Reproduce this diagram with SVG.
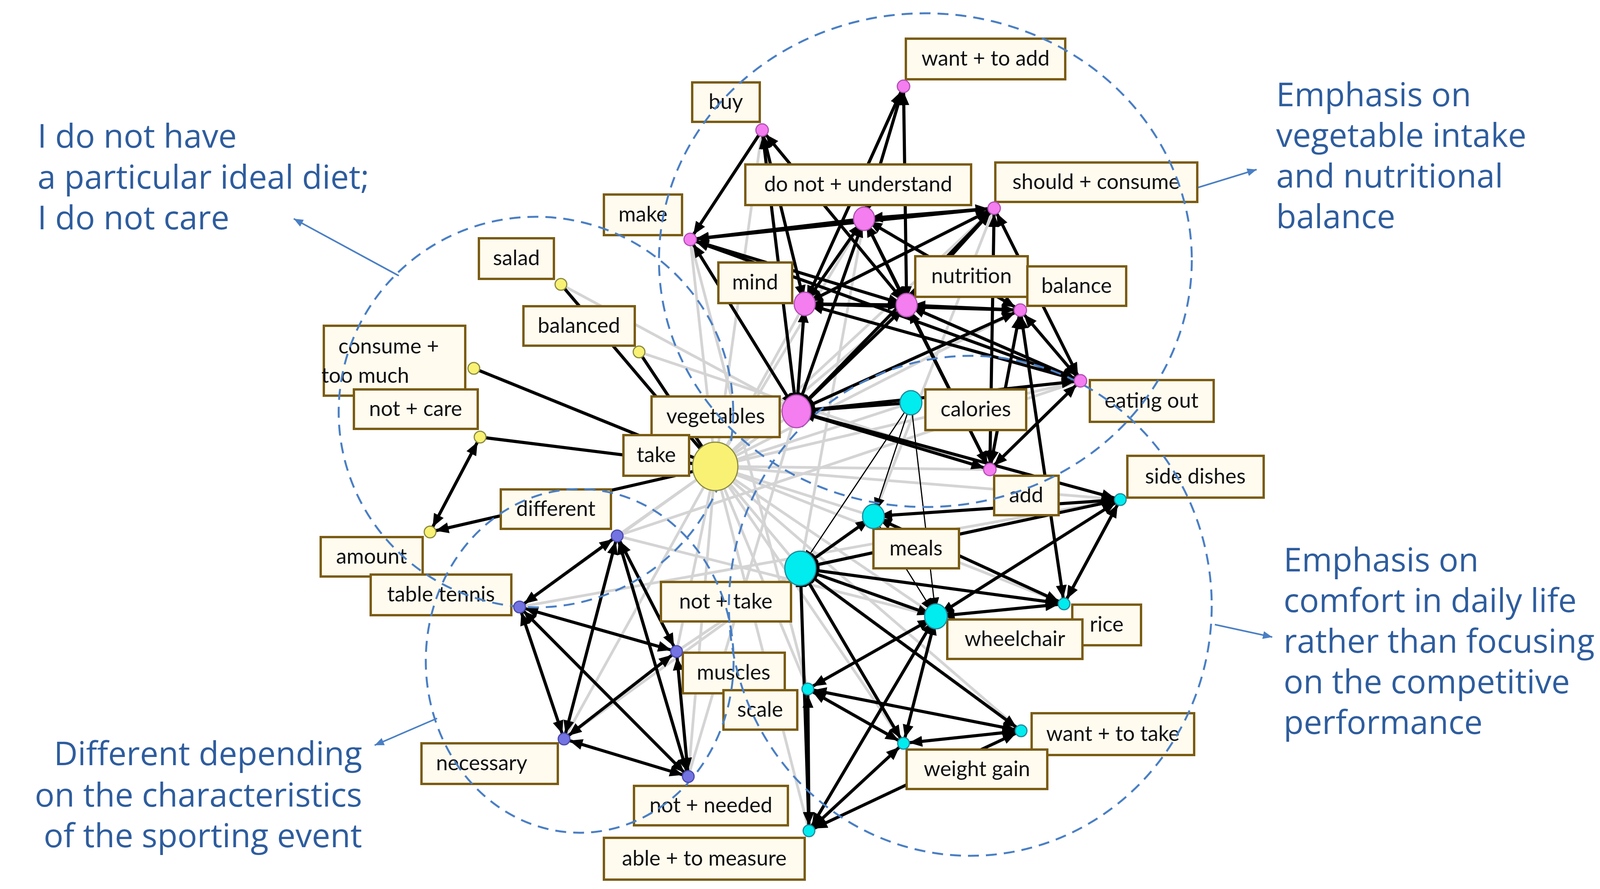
<svg xmlns="http://www.w3.org/2000/svg" width="4179" height="2276" viewBox="0 0 4179 2276">
<style>
.g{stroke:#d4d4d4;stroke-width:7}
.e{stroke:#000;stroke-width:8;marker-end:url(#a);marker-start:url(#a)}
.o{stroke:#000;stroke-width:8;marker-end:url(#a)}
.t{stroke:#000;stroke-width:3;marker-end:url(#a)}
.lb rect{fill:#fffbef;stroke:#7a5c12;stroke-width:6}
.lb text{font-family:Lato,"Open Sans",sans-serif;font-size:54px;fill:#111;text-anchor:middle}
.ann{font-family:"Open Sans","Noto Sans",sans-serif;font-size:84px;fill:#2e5d9e}
.dc{fill:none;stroke:#4a7fc4;stroke-width:5;stroke-dasharray:28 18}
.ar{stroke:#4a7fc4;stroke-width:4;marker-end:url(#b)}
.pk{fill:#f47df0;stroke:#b050b0;stroke-width:3}
.cy{fill:#00ecef;stroke:#208a9a;stroke-width:3}
.ye{fill:#f8f174;stroke:#8a8a40;stroke-width:3}
.pu{fill:#7373e2;stroke:#4a4ab0;stroke-width:3}
</style>
<defs>
<marker id="a" markerUnits="userSpaceOnUse" markerWidth="36" markerHeight="28" refX="48" refY="14" orient="auto-start-reverse"><path d="M0,0 L34,14 L0,28 z" fill="#000"/></marker>
<marker id="b" markerUnits="userSpaceOnUse" markerWidth="26" markerHeight="20" refX="24" refY="10" orient="auto"><path d="M0,0 L24,10 L0,20 z" fill="#4a7fc4"/></marker>
</defs>
<rect width="4179" height="2276" fill="#fff"/>
<g id="connectors">
<g id="gray">
<line class="g" x1="1831" y1="1194" x2="1767" y2="613"/><line class="g" x1="1831" y1="1194" x2="2212" y2="560"/>
<line class="g" x1="1831" y1="1194" x2="2060" y2="778"/><line class="g" x1="1831" y1="1194" x2="2321" y2="781"/>
<line class="g" x1="1831" y1="1194" x2="2545" y2="533"/><line class="g" x1="1831" y1="1194" x2="2612" y2="794"/>
<line class="g" x1="1831" y1="1194" x2="2766" y2="975"/><line class="g" x1="1831" y1="1194" x2="2534" y2="1202"/>
<line class="g" x1="1831" y1="1194" x2="2332" y2="1031"/><line class="g" x1="1831" y1="1194" x2="2236" y2="1322"/>
<line class="g" x1="1831" y1="1194" x2="2049" y2="1455"/><line class="g" x1="1831" y1="1194" x2="2868" y2="1279"/>
<line class="g" x1="1831" y1="1194" x2="2724" y2="1546"/><line class="g" x1="1831" y1="1194" x2="2396" y2="1578"/>
<line class="g" x1="1831" y1="1194" x2="2068" y2="1764"/><line class="g" x1="1831" y1="1194" x2="2313" y2="1903"/>
<line class="g" x1="1831" y1="1194" x2="2614" y2="1871"/><line class="g" x1="1831" y1="1194" x2="2071" y2="2127"/>
<line class="g" x1="1831" y1="1194" x2="1580" y2="1372"/><line class="g" x1="1831" y1="1194" x2="1330" y2="1554"/>
<line class="g" x1="1831" y1="1194" x2="1732" y2="1668"/><line class="g" x1="1831" y1="1194" x2="1444" y2="1892"/>
<line class="g" x1="1831" y1="1194" x2="1762" y2="1988"/><line class="g" x1="1831" y1="1194" x2="1951" y2="333"/>
<line class="g" x1="1831" y1="1194" x2="2039" y2="1053"/><line class="g" x1="1436" y1="728" x2="2039" y2="1053"/>
<line class="g" x1="1580" y1="1372" x2="2766" y2="975"/><line class="g" x1="1330" y1="1554" x2="2868" y2="1279"/>
<line class="g" x1="1732" y1="1668" x2="2049" y2="1455"/><line class="g" x1="1762" y1="1988" x2="2039" y2="1053"/>
<line class="g" x1="1580" y1="1372" x2="2396" y2="1578"/><line class="g" x1="1444" y1="1892" x2="2049" y2="1455"/>
<line class="g" x1="1636" y1="901" x2="2534" y2="1202"/><line class="g" x1="1767" y1="613" x2="2068" y2="1764"/>
<line class="g" x1="2212" y1="560" x2="2049" y2="1455"/><line class="g" x1="2545" y1="533" x2="2236" y2="1322"/>
</g>
<g id="black">
<line class="o" x1="1951" y1="333" x2="1767" y2="613"/>
<line class="e" x1="1951" y1="333" x2="2060" y2="778"/><line class="e" x1="1951" y1="333" x2="2321" y2="781"/>
<line class="e" x1="1951" y1="333" x2="2039" y2="1053"/>
<line class="e" x1="2313" y1="221" x2="2212" y2="560"/><line class="e" x1="2313" y1="221" x2="2321" y2="781"/>
<line class="e" x1="2313" y1="221" x2="2060" y2="778"/>
<line class="o" x1="2212" y1="560" x2="1767" y2="613"/><line class="o" x1="2545" y1="533" x2="1767" y2="613"/>
<line class="e" x1="1767" y1="613" x2="2321" y2="781"/><line class="e" x1="1767" y1="613" x2="2039" y2="1053"/>
<line class="e" x1="1767" y1="613" x2="2766" y2="975"/>
<line class="e" x1="2212" y1="560" x2="2545" y2="533"/><line class="e" x1="2212" y1="560" x2="2060" y2="778"/>
<line class="e" x1="2212" y1="560" x2="2321" y2="781"/><line class="e" x1="2212" y1="560" x2="2039" y2="1053"/>
<line class="e" x1="2212" y1="560" x2="2612" y2="794"/><line class="e" x1="2212" y1="560" x2="2534" y2="1202"/>
<line class="e" x1="2545" y1="533" x2="2060" y2="778"/><line class="e" x1="2545" y1="533" x2="2321" y2="781"/>
<line class="e" x1="2545" y1="533" x2="2039" y2="1053"/><line class="e" x1="2545" y1="533" x2="2766" y2="975"/>
<line class="e" x1="2545" y1="533" x2="2534" y2="1202"/>
<line class="e" x1="2060" y1="778" x2="2321" y2="781"/><line class="e" x1="2060" y1="778" x2="2039" y2="1053"/>
<line class="e" x1="2060" y1="778" x2="2612" y2="794"/><line class="e" x1="2060" y1="778" x2="2766" y2="975"/>
<line class="e" x1="2321" y1="781" x2="2039" y2="1053"/><line class="e" x1="2321" y1="781" x2="2612" y2="794"/>
<line class="e" x1="2321" y1="781" x2="2766" y2="975"/><line class="e" x1="2321" y1="781" x2="2534" y2="1202"/>
<line class="e" x1="2612" y1="794" x2="2039" y2="1053"/><line class="e" x1="2612" y1="794" x2="2766" y2="975"/>
<line class="e" x1="2612" y1="794" x2="2534" y2="1202"/>
<line class="e" x1="2766" y1="975" x2="2534" y2="1202"/><line class="e" x1="2766" y1="975" x2="2039" y2="1053"/>
<line class="o" x1="2332" y1="1031" x2="2039" y2="1053"/>
<line class="e" x1="2039" y1="1053" x2="2868" y2="1279"/><line class="e" x1="2039" y1="1053" x2="2534" y2="1202"/>
<line class="e" x1="2612" y1="794" x2="2724" y2="1546"/>
<line class="t" x1="2332" y1="1031" x2="2236" y2="1322"/><line class="t" x1="2332" y1="1031" x2="2049" y2="1455"/>
<line class="t" x1="2332" y1="1031" x2="2396" y2="1578"/><line class="t" x1="2236" y1="1322" x2="2396" y2="1578"/>
<line class="e" x1="2236" y1="1322" x2="2868" y2="1279"/><line class="e" x1="2236" y1="1322" x2="2049" y2="1455"/>
<line class="e" x1="2236" y1="1322" x2="2724" y2="1546"/>
<line class="e" x1="2049" y1="1455" x2="2868" y2="1279"/><line class="e" x1="2049" y1="1455" x2="2724" y2="1546"/>
<line class="e" x1="2049" y1="1455" x2="2396" y2="1578"/><line class="e" x1="2049" y1="1455" x2="2313" y2="1903"/>
<line class="e" x1="2049" y1="1455" x2="2614" y2="1871"/><line class="e" x1="2049" y1="1455" x2="2071" y2="2127"/>
<line class="e" x1="2868" y1="1279" x2="2724" y2="1546"/><line class="e" x1="2868" y1="1279" x2="2396" y2="1578"/>
<line class="e" x1="2396" y1="1578" x2="2068" y2="1764"/><line class="e" x1="2396" y1="1578" x2="2313" y2="1903"/>
<line class="e" x1="2396" y1="1578" x2="2071" y2="2127"/><line class="e" x1="2724" y1="1546" x2="2396" y2="1578"/>
<line class="e" x1="2068" y1="1764" x2="2614" y2="1871"/><line class="e" x1="2068" y1="1764" x2="2313" y2="1903"/>
<line class="e" x1="2614" y1="1871" x2="2313" y2="1903"/><line class="e" x1="2614" y1="1871" x2="2071" y2="2127"/>
<line class="e" x1="2068" y1="1764" x2="2071" y2="2127"/><line class="e" x1="2313" y1="1903" x2="2071" y2="2127"/>
<line class="e" x1="1580" y1="1372" x2="1330" y2="1554"/><line class="e" x1="1580" y1="1372" x2="1444" y2="1892"/>
<line class="e" x1="1580" y1="1372" x2="1762" y2="1988"/><line class="e" x1="1580" y1="1372" x2="1732" y2="1668"/>
<line class="e" x1="1330" y1="1554" x2="1732" y2="1668"/><line class="e" x1="1330" y1="1554" x2="1444" y2="1892"/>
<line class="e" x1="1330" y1="1554" x2="1762" y2="1988"/><line class="e" x1="1732" y1="1668" x2="1444" y2="1892"/>
<line class="e" x1="1732" y1="1668" x2="1762" y2="1988"/><line class="e" x1="1444" y1="1892" x2="1762" y2="1988"/>
<line class="o" x1="1436" y1="728" x2="1831" y2="1194"/><line class="o" x1="1636" y1="901" x2="1831" y2="1194"/>
<line class="o" x1="1213" y1="943" x2="1831" y2="1194"/><line class="o" x1="1229" y1="1119" x2="1831" y2="1194"/>
<line class="e" x1="1229" y1="1119" x2="1101" y2="1362"/><line class="o" x1="1831" y1="1194" x2="1101" y2="1362"/>
</g>
<g id="annotation-arrows">
<line class="ar" x1="1021" y1="706" x2="752" y2="560"/>
<line class="ar" x1="3025" y1="493" x2="3217" y2="434"/>
<line class="ar" x1="3110" y1="1599" x2="3257" y2="1631"/>
<line class="ar" x1="1119" y1="1839" x2="959" y2="1908"/>
</g>
</g>
<g id="labels">
<g id="l-buy" class="lb"><rect x="1772" y="211" width="173" height="101"/><text x="1858" y="279">buy</text></g>
<g id="l-wantadd" class="lb"><rect x="2319" y="99" width="408" height="104"/><text x="2523" y="168">want + to add</text></g>
<g id="l-make" class="lb"><rect x="1546" y="498" width="200" height="104"/><text x="1646" y="567">make</text></g>
<g id="l-donot" class="lb"><rect x="1908" y="421" width="578" height="104"/><text x="2197" y="490">do not + understand</text></g>
<g id="l-should" class="lb"><rect x="2548" y="416" width="517" height="101"/><text x="2806" y="484">should + consume</text></g>
<g id="l-mind" class="lb"><rect x="1839" y="672" width="189" height="104"/><text x="1933" y="741">mind</text></g>
<g id="l-nutrition" class="lb"><rect x="2343" y="656" width="288" height="104"/><text x="2487" y="725">nutrition</text></g>
<g id="l-balance" class="lb"><rect x="2630" y="682" width="253" height="101"/><text x="2756" y="750">balance</text></g>
<g id="l-salad" class="lb"><rect x="1226" y="610" width="192" height="104"/><text x="1322" y="679">salad</text></g>
<g id="l-balanced" class="lb"><rect x="1340" y="784" width="285" height="101"/><text x="1482" y="852">balanced</text></g>
<g id="l-consume" class="lb"><rect x="829" y="834" width="362" height="179"/><text x="995" y="905">consume +</text><text x="935" y="980">too much</text></g>
<g id="l-notcare" class="lb"><rect x="906" y="997" width="317" height="101"/><text x="1064" y="1065">not + care</text></g>
<g id="l-vegetables" class="lb"><rect x="1668" y="1015" width="328" height="104"/><text x="1832" y="1084">vegetables</text></g>
<g id="l-take" class="lb"><rect x="1596" y="1114" width="168" height="104"/><text x="1680" y="1183">take</text></g>
<g id="l-calories" class="lb"><rect x="2369" y="997" width="258" height="104"/><text x="2498" y="1066">calories</text></g>
<g id="l-eatingout" class="lb"><rect x="2790" y="973" width="317" height="107"/><text x="2948" y="1044">eating out</text></g>
<g id="l-add" class="lb"><rect x="2545" y="1218" width="165" height="101"/><text x="2627" y="1286">add</text></g>
<g id="l-sidedishes" class="lb"><rect x="2886" y="1167" width="349" height="107"/><text x="3060" y="1238">side dishes</text></g>
<g id="l-different" class="lb"><rect x="1282" y="1253" width="282" height="101"/><text x="1423" y="1321">different</text></g>
<g id="l-meals" class="lb"><rect x="2236" y="1354" width="219" height="101"/><text x="2345" y="1422">meals</text></g>
<g id="l-amount" class="lb"><rect x="821" y="1375" width="261" height="101"/><text x="951" y="1443">amount</text></g>
<g id="l-tabletennis" class="lb"><rect x="949" y="1471" width="360" height="104"/><text x="1129" y="1540">table tennis</text></g>
<g id="l-nottake" class="lb"><rect x="1692" y="1490" width="333" height="101"/><text x="1858" y="1558">not +  take</text></g>
<g id="l-rice" class="lb"><rect x="2745" y="1548" width="176" height="104"/><text x="2833" y="1617">rice</text></g>
<g id="l-wheelchair" class="lb"><rect x="2425" y="1586" width="346" height="101"/><text x="2598" y="1654">wheelchair</text></g>
<g id="l-muscles" class="lb"><rect x="1748" y="1671" width="261" height="104"/><text x="1878" y="1740">muscles</text></g>
<g id="l-scale" class="lb"><rect x="1852" y="1767" width="189" height="101"/><text x="1946" y="1835">scale</text></g>
<g id="l-wanttake" class="lb"><rect x="2641" y="1826" width="416" height="107"/><text x="2849" y="1897">want + to take</text></g>
<g id="l-weightgain" class="lb"><rect x="2321" y="1919" width="360" height="101"/><text x="2501" y="1987">weight gain</text></g>
<g id="l-necessary" class="lb"><rect x="1079" y="1903" width="349" height="104"/><text x="1233" y="1972">necessary</text></g>
<g id="l-notneeded" class="lb"><rect x="1623" y="2012" width="394" height="101"/><text x="1820" y="2080">not + needed</text></g>
<g id="l-able" class="lb"><rect x="1546" y="2145" width="514" height="107"/><text x="1803" y="2216">able + to measure</text></g>
</g>
<g id="groups">
<ellipse class="dc" cx="2369" cy="666" rx="682" ry="632"/>
<ellipse class="dc" cx="1372" cy="1055" rx="505" ry="500"/>
<ellipse class="dc" cx="1484" cy="1692" rx="394" ry="440"/>
<ellipse class="dc" cx="2484" cy="1551" rx="618" ry="640"/>
</g>
<g id="nodes">
<g id="n-buy"><circle class="pk" cx="1951" cy="333" r="16"/></g>
<g id="n-wantadd"><circle class="pk" cx="2313" cy="221" r="16"/></g>
<g id="n-make"><circle class="pk" cx="1767" cy="613" r="16"/></g>
<g id="n-donot"><ellipse class="pk" cx="2212" cy="560" rx="27" ry="30"/></g>
<g id="n-should"><circle class="pk" cx="2545" cy="533" r="16"/></g>
<g id="n-mind"><ellipse class="pk" cx="2060" cy="778" rx="27" ry="30"/></g>
<g id="n-nutrition"><ellipse class="pk" cx="2321" cy="781" rx="27" ry="30"/></g>
<g id="n-balance"><circle class="pk" cx="2612" cy="794" r="16"/></g>
<g id="n-eatingout"><circle class="pk" cx="2766" cy="975" r="16"/></g>
<g id="n-vegetables"><ellipse class="pk" cx="2039" cy="1053" rx="37" ry="42"/></g>
<g id="n-add"><circle class="pk" cx="2534" cy="1202" r="16"/></g>
<g id="n-calories"><ellipse class="cy" cx="2332" cy="1031" rx="28" ry="31"/></g>
<g id="n-meals"><ellipse class="cy" cx="2236" cy="1322" rx="28" ry="31"/></g>
<g id="n-bigcyan"><ellipse class="cy" cx="2049" cy="1455" rx="40" ry="44"/></g>
<g id="n-sidedishes"><circle class="cy" cx="2868" cy="1279" r="15"/></g>
<g id="n-rice"><circle class="cy" cx="2724" cy="1546" r="15"/></g>
<g id="n-wheelchair"><ellipse class="cy" cx="2396" cy="1578" rx="29" ry="32"/></g>
<g id="n-scale"><circle class="cy" cx="2068" cy="1764" r="15"/></g>
<g id="n-weightgain"><circle class="cy" cx="2313" cy="1903" r="15"/></g>
<g id="n-wanttake"><circle class="cy" cx="2614" cy="1871" r="15"/></g>
<g id="n-able"><circle class="cy" cx="2071" cy="2127" r="15"/></g>
<g id="n-take"><ellipse class="ye" cx="1831" cy="1194" rx="58" ry="62"/></g>
<g id="n-salad"><circle class="ye" cx="1436" cy="728" r="15"/></g>
<g id="n-balanced"><circle class="ye" cx="1636" cy="901" r="15"/></g>
<g id="n-consume"><circle class="ye" cx="1213" cy="943" r="15"/></g>
<g id="n-notcare"><circle class="ye" cx="1229" cy="1119" r="15"/></g>
<g id="n-amount"><circle class="ye" cx="1101" cy="1362" r="15"/></g>
<g id="n-different"><circle class="pu" cx="1580" cy="1372" r="15"/></g>
<g id="n-tabletennis"><circle class="pu" cx="1330" cy="1554" r="15"/></g>
<g id="n-muscles"><circle class="pu" cx="1732" cy="1668" r="15"/></g>
<g id="n-necessary"><circle class="pu" cx="1444" cy="1892" r="15"/></g>
<g id="n-notneeded"><circle class="pu" cx="1762" cy="1988" r="15"/></g>
</g>
<g id="annotations">
<text class="ann" x="96" y="378">I do not have</text>
<text class="ann" x="96" y="483">a particular ideal diet;</text>
<text class="ann" x="96" y="587">I do not care</text>
<text class="ann" x="3267" y="272">Emphasis on</text>
<text class="ann" x="3267" y="376">vegetable intake</text>
<text class="ann" x="3267" y="480">and nutritional</text>
<text class="ann" x="3267" y="584">balance</text>
<text class="ann" x="3286" y="1463">Emphasis on</text>
<text class="ann" x="3286" y="1567">comfort in daily life</text>
<text class="ann" x="3286" y="1671">rather than focusing</text>
<text class="ann" x="3286" y="1775">on the competitive</text>
<text class="ann" x="3286" y="1879">performance</text>
<text class="ann" x="927" y="1959" text-anchor="end">Different depending</text>
<text class="ann" x="927" y="2065" text-anchor="end">on the characteristics</text>
<text class="ann" x="927" y="2169" text-anchor="end">of the sporting event</text>
</g>
</svg>
